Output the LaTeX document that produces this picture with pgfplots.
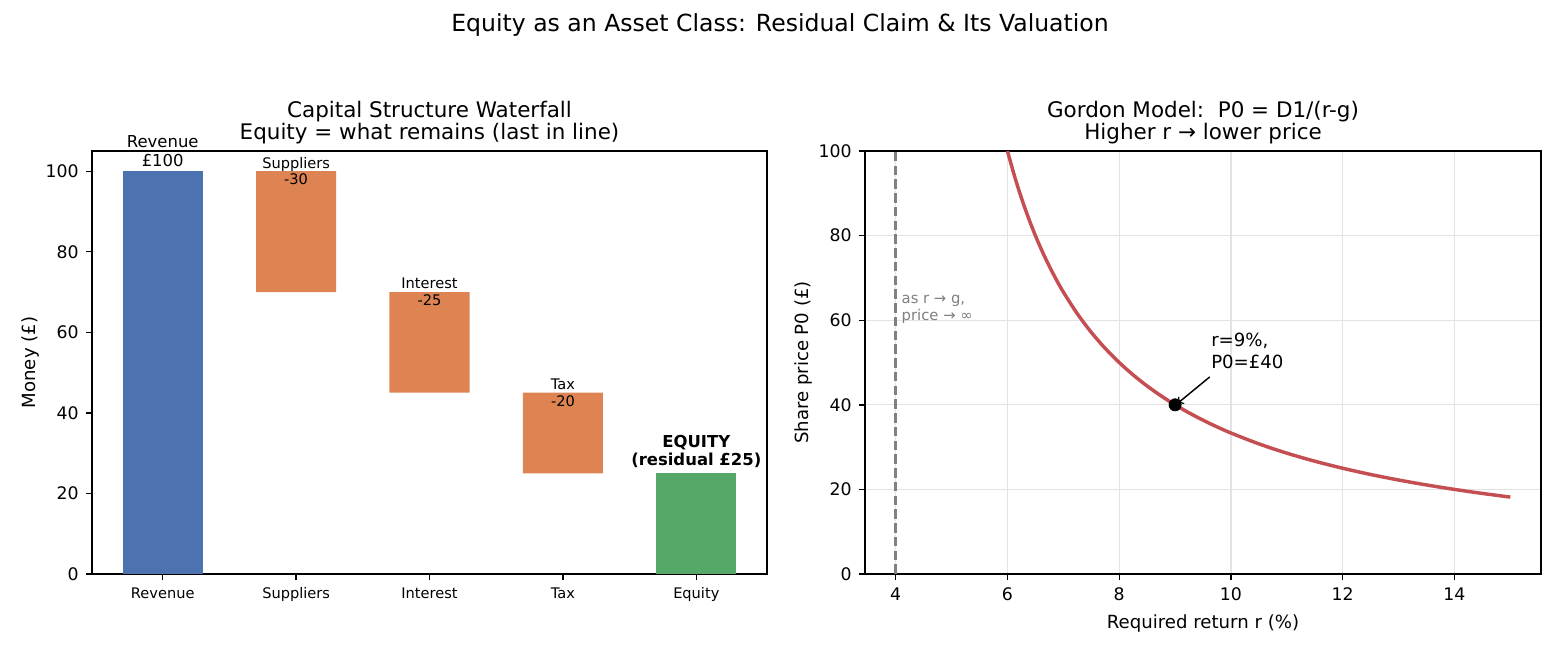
\documentclass[border=0pt]{standalone}
\usepackage{fontspec}
\setmainfont{DejaVu Sans}
\usepackage{pgfplots}
\pgfplotsset{compat=1.18}

\definecolor{cblue}{HTML}{4C72B0}
\definecolor{corange}{HTML}{DD8452}
\definecolor{cgreen}{HTML}{55A868}
\definecolor{cred}{HTML}{C44E52}

\pgfplotsset{
  panel/.style={
    scale only axis,
    anchor=south west,
    height=203pt,
    axis line style={line width=0.66pt},
    tick align=outside,
    tick pos=left,
    major tick length=2.9pt,
    every tick/.style={black, line width=0.66pt},
    /pgf/number format/assume math mode=true,
    tick label style={font=\fontsize{8.3}{10}\selectfont},
    label style={font=\fontsize{8.7}{10.4}\selectfont},
    ylabel style={yshift=-3.8pt},
    every axis title/.style={font=\fontsize{10.3}{9.8}\selectfont, align=center,
                 at={(0.5,1)}, anchor=south, inner sep=0pt, yshift=3pt},
  },
}

\begin{document}
\begin{tikzpicture}
\useasboundingbox (0,0) rectangle (748.8pt,312pt);

\node[font=\fontsize{11.3}{13.6}\selectfont] at (374.4pt,300pt)
  {Equity as an Asset Class: Residual Claim \& Its Valuation};

% ---- left: waterfall of claims on revenue ----
\begin{axis}[panel,
  at={(44.16pt,36.48pt)}, width=324pt,
  title={Capital Structure Waterfall\\Equity = what remains (last in line)},
  ybar stacked, bar width=0.6,
  xmin=-0.53, xmax=4.53, ymin=0, ymax=105,
  xtick={0,1,2,3,4},
  xticklabels={Revenue,Suppliers,Interest,Tax,Equity},
  x tick label style={font=\fontsize{7.0}{8.4}\selectfont},
  ytick={0,20,40,60,80,100},
  ylabel={Money (£)},
]
% invisible base of each floating bar
\addplot[draw=none, fill=none] coordinates {(0,0) (1,70) (2,45) (3,25) (4,0)};
\addplot[draw=none, fill=cblue] coordinates {(0,100) (1,0) (2,0) (3,0) (4,0)};
\addplot[draw=none, fill=corange] coordinates {(0,0) (1,30) (2,25) (3,20) (4,0)};
\addplot[draw=none, fill=cgreen] coordinates {(0,0) (1,0) (2,0) (3,0) (4,25)};

% label anchors at the top of each bar
\coordinate (lRev) at (axis cs:0,101);
\coordinate (lSup) at (axis cs:1,100);
\coordinate (lInt) at (axis cs:2,70);
\coordinate (lTax) at (axis cs:3,45);
\coordinate (lEq)  at (axis cs:4,26.2);
\end{axis}

\node[anchor=south, align=center, font=\fontsize{7.9}{9.0}\selectfont, inner sep=0pt]
  at (lRev) {Revenue\\£100};
\node[align=center, font=\fontsize{7.0}{8.0}\selectfont, inner sep=0pt]
  at (lSup) {Suppliers\\-30};
\node[align=center, font=\fontsize{7.0}{8.0}\selectfont, inner sep=0pt]
  at (lInt) {Interest\\-25};
\node[align=center, font=\fontsize{7.0}{8.0}\selectfont, inner sep=0pt]
  at (lTax) {Tax\\-20};
\node[anchor=south, align=center, font=\bfseries\fontsize{7.9}{9.0}\selectfont, inner sep=0pt]
  at (lEq) {EQUITY\\(residual £25)};

% ---- right: Gordon growth model, D1 = 2, g = 4% ----
\begin{axis}[panel,
  at={(415.2pt,36.48pt)}, width=324.5pt,
  title={Gordon Model:\ \ P0 = D1/(r-g)\\Higher r → lower price},
  xmin=3.45, xmax=15.55, ymin=0, ymax=100,
  xtick={4,6,8,10,12,14},
  ytick={0,20,40,60,80,100},
  grid=major,
  major grid style={gray!22, line width=0.6pt},
  xlabel={Required return r (\%)},
  ylabel={Share price P0 (£)},
]
\addplot[gray, line width=1.25pt, dash pattern=on 4.6pt off 2pt]
  coordinates {(4,0) (4,100)};
\addplot[cred, line width=1.66pt, smooth] coordinates {
  (6,100) (6.125,94.118) (6.25,88.889) (6.375,84.211) (6.5,80)
  (6.625,76.190) (6.75,72.727) (6.875,69.565) (7,66.667) (7.25,61.538)
  (7.5,57.143) (7.75,53.333) (8,50) (8.25,47.059) (8.5,44.444)
  (8.75,42.105) (9,40) (9.25,38.095) (9.5,36.364) (9.75,34.783)
  (10,33.333) (10.5,30.769) (11,28.571) (11.5,26.667) (12,25)
  (12.5,23.529) (13,22.222) (13.5,21.053) (14,20) (14.5,19.048) (15,18.182)
};
\addplot[only marks, mark=*, mark size=2.9pt, black] coordinates {(9,40)};

\node[anchor=south west, align=left, text=gray, font=\fontsize{7.1}{8.5}\selectfont, inner sep=0pt]
  at (axis cs:4.1,59) {as r → g,\\price → ∞};
\node[anchor=south west, align=left, font=\fontsize{8.7}{10.4}\selectfont, inner sep=0pt]
  at (axis cs:9.64,48.4) {r=9\%,\\P0=£40};
\draw[->, line width=0.7pt] (axis cs:9.62,46.6) -- (axis cs:9.05,40.4);
\end{axis}
\end{tikzpicture}
\end{document}
